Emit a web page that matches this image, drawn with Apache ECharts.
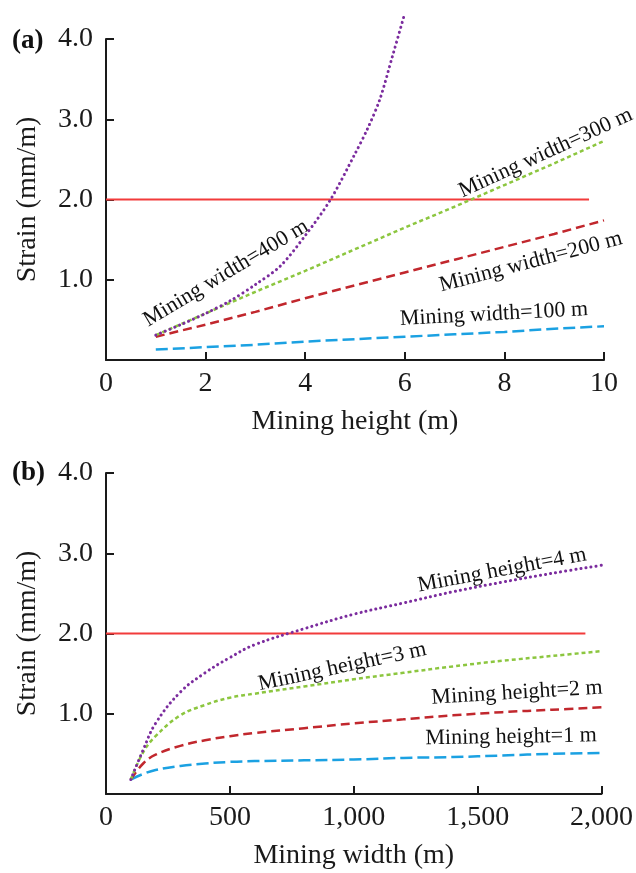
<!DOCTYPE html>
<html>
<head>
<meta charset="utf-8">
<script src="https://cdn.jsdelivr.net/npm/echarts@6/dist/echarts.min.js"></script>
<style>
html,body{margin:0;padding:0;background:#fff;}
#chart{width:636px;height:873px;}
</style>
</head>
<body>
<div id="chart"></div>
<script>
// ---------- Panel (a): strain vs mining height ----------
var heightsA = [1, 2, 3, 4, 5, 6, 7, 8, 9, 10];
var strainW100 = [0.13, 0.16, 0.19, 0.23, 0.26, 0.29, 0.32, 0.35, 0.39, 0.42];
var strainW200 = [0.29, 0.44, 0.60, 0.77, 0.93, 1.09, 1.25, 1.41, 1.57, 1.74];
var strainW300 = [0.31, 0.58, 0.85, 1.11, 1.38, 1.65, 1.91, 2.18, 2.45, 2.73];
var heightsA400 = [1, 1.5, 2, 2.5, 3, 3.5, 4, 4.5, 5, 5.25, 5.5, 5.75, 6];
var strainW400 = [0.31, 0.44, 0.58, 0.74, 0.94, 1.17, 1.55, 1.99, 2.57, 2.88, 3.25, 3.78, 4.32];
var limitXA = [0, 9.7];
var limitStrain = 2.0;
var labelsA = ["Mining width=100 m", "Mining width=200 m", "Mining width=300 m", "Mining width=400 m"];

// ---------- Panel (b): strain vs mining width ----------
var widthsB = [100, 150, 200, 300, 400, 500, 600, 800, 1000, 1200, 1400, 1600, 1800, 2000];
var strainH1 = [0.18, 0.25, 0.30, 0.35, 0.38, 0.40, 0.41, 0.42, 0.43, 0.45, 0.46, 0.48, 0.50, 0.51];
var strainH2 = [0.18, 0.38, 0.49, 0.60, 0.67, 0.72, 0.76, 0.82, 0.88, 0.93, 0.98, 1.02, 1.05, 1.08];
var strainH3 = [0.18, 0.52, 0.72, 0.98, 1.11, 1.20, 1.25, 1.34, 1.43, 1.51, 1.59, 1.66, 1.72, 1.78];
var strainH4 = [0.18, 0.55, 0.88, 1.27, 1.51, 1.70, 1.86, 2.06, 2.24, 2.38, 2.52, 2.64, 2.75, 2.85];
var limitXB = [0, 1935];
var labelsB = ["Mining height=1 m", "Mining height=2 m", "Mining height=3 m", "Mining height=4 m"];

// label anchor positions (data coords) and angles
var labelPosA = [[7.79, 0.57, 3], [8.53, 1.22, 14.7], [8.83, 2.58, 24.6], [2.41, 1.08, 31]];
var labelPosB = [[1635, 0.71, 1], [1659, 1.26, 3.4], [954, 1.585, 12], [1599, 2.79, 10.6]];

var FONT = '"Liberation Serif", "Times New Roman", serif';
var AXIS_COLOR = '#1a1a1a';
var colors = { w100: '#1ba1e2', w200: '#c1272d', w300: '#8cc63f', w400: '#7b2c9e', limit: '#f23b3b' };
var styles = {
  w100: [12, 5],
  w200: [9, 5],
  w300: [4, 3],
  w400: [0.1, 5]
};

function zip(xs, ys) { return xs.map(function (x, i) { return [x, ys[i]]; }); }

function xAxisCfg(idx, min, max, interval, name, fmt) {
  return {
    type: 'value', gridIndex: idx, min: min, max: max, interval: interval,
    name: name, nameLocation: 'middle', nameGap: 48,
    nameTextStyle: { fontFamily: FONT, fontSize: 28, color: AXIS_COLOR },
    axisLine: { show: true, onZero: false, lineStyle: { color: AXIS_COLOR, width: 2 } },
    axisTick: { show: true, inside: true, length: 8, lineStyle: { color: AXIS_COLOR, width: 2 } },
    axisLabel: { fontFamily: FONT, fontSize: 28, color: AXIS_COLOR, margin: 10, formatter: fmt },
    splitLine: { show: false }
  };
}
function yAxisCfg(idx) {
  return {
    type: 'value', gridIndex: idx, min: 0, max: 4, interval: 1,
    name: 'Strain (mm/m)', nameLocation: 'middle', nameGap: 64,
    nameTextStyle: { fontFamily: FONT, fontSize: 28, color: AXIS_COLOR },
    axisLine: { show: true, lineStyle: { color: AXIS_COLOR, width: 2 } },
    axisTick: { show: true, inside: true, length: 8, lineStyle: { color: AXIS_COLOR, width: 2 } },
    axisLabel: { fontFamily: FONT, fontSize: 28, color: AXIS_COLOR, margin: 13, showMinLabel: false,
      formatter: function (v) { return v === 0 ? '' : v.toFixed(1); } },
    splitLine: { show: false }
  };
}

function lineSeries(idx, data, color, dash, width, smooth) {
  return {
    type: 'line', xAxisIndex: idx, yAxisIndex: idx, data: data, symbol: 'none',
    smooth: smooth, clip: false, silent: true,
    lineStyle: { color: color, width: width, type: dash, cap: dash && dash[0] < 1 ? 'round' : 'butt' }
  };
}
function labelSeries(idx, pos, texts) {
  return {
    type: 'scatter', xAxisIndex: idx, yAxisIndex: idx, symbolSize: 0, silent: true, clip: false,
    itemStyle: { opacity: 1 },
    data: pos.map(function (p, i) {
      return {
        value: [p[0], p[1]],
        label: { show: true, formatter: texts[i], rotate: p[2], position: 'inside',
          fontFamily: FONT, fontSize: 22, color: '#111', opacity: 1,
          textBorderWidth: 0, textShadowBlur: 0, align: 'center', verticalAlign: 'middle' }
      };
    })
  };
}

var chart = echarts.init(document.getElementById('chart'), null, { renderer: 'canvas' });
var commaFmt = function (v) { return v.toLocaleString('en-US'); };

chart.setOption({
  backgroundColor: '#fff',
  animation: false,
  grid: [
    { left: 106, top: 39, width: 498, height: 321, containLabel: false },
    { left: 106, top: 473, width: 499, height: 321, containLabel: false }
  ],
  xAxis: [
    xAxisCfg(0, 0, 10, 2, 'Mining height (m)', function (v) { return String(v); }),
    xAxisCfg(1, 0, 2000, 500, 'Mining width (m)', commaFmt)
  ],
  yAxis: [yAxisCfg(0), yAxisCfg(1)],
  graphic: [
    { type: 'text', left: 12, top: 28, style: { text: '(a)', fontFamily: FONT, fontSize: 27, fontWeight: 'bold', fill: '#111' } },
    { type: 'text', left: 12, top: 460, style: { text: '(b)', fontFamily: FONT, fontSize: 27, fontWeight: 'bold', fill: '#111' } }
  ],
  series: [
    lineSeries(0, zip(limitXA, [limitStrain, limitStrain]), colors.limit, 'solid', 2, false),
    lineSeries(0, zip(heightsA, strainW100), colors.w100, styles.w100, 2.5, false),
    lineSeries(0, zip(heightsA, strainW200), colors.w200, styles.w200, 2.5, false),
    lineSeries(0, zip(heightsA, strainW300), colors.w300, styles.w300, 2.5, false),
    lineSeries(0, zip(heightsA400, strainW400), colors.w400, styles.w400, 3, 0.3),
    labelSeries(0, labelPosA, labelsA),

    lineSeries(1, zip(limitXB, [limitStrain, limitStrain]), colors.limit, 'solid', 2, false),
    lineSeries(1, zip(widthsB, strainH1), colors.w100, styles.w100, 2.5, 0.4),
    lineSeries(1, zip(widthsB, strainH2), colors.w200, styles.w200, 2.5, 0.4),
    lineSeries(1, zip(widthsB, strainH3), colors.w300, styles.w300, 2.5, 0.4),
    lineSeries(1, zip(widthsB, strainH4), colors.w400, styles.w400, 3, 0.4),
    labelSeries(1, labelPosB, labelsB)
  ]
});
</script>
</body>
</html>
